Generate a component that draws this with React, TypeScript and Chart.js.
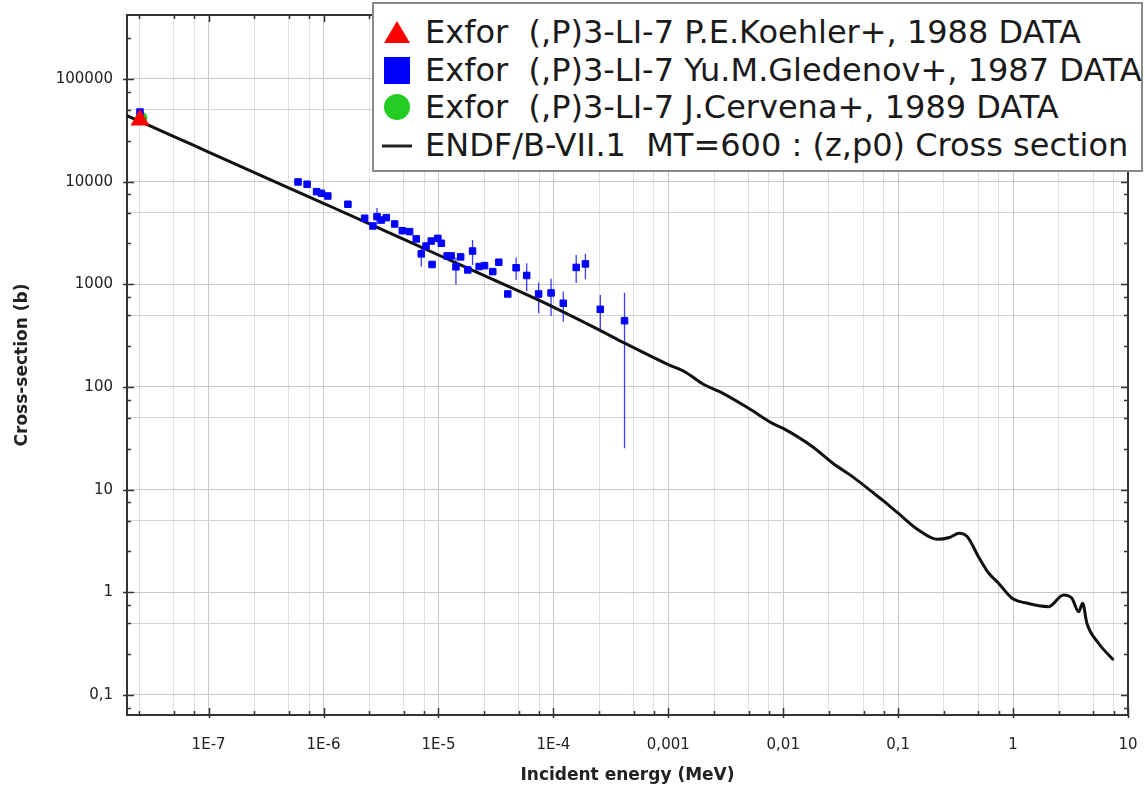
import React, { useEffect, useRef } from "react";
import { Chart, registerables } from "chart.js";

Chart.register(...registerables);

// ENDF/B-VII.1 MT=600 curve (MeV, barns)
const endfEnergy = [
  1.95e-8, 2.53e-8, 5e-8, 1e-7, 3e-7, 1e-6, 3e-6, 1e-5, 3e-5, 1e-4, 2.5e-4, 4.1e-4,
  1e-3, 1.4e-3, 2e-3, 2.8e-3, 5e-3, 8e-3, 0.01, 0.018, 0.027, 0.04, 0.073, 0.1,
  0.15, 0.22, 0.28, 0.34, 0.4, 0.5, 0.61, 0.75, 0.98, 1.28, 2.04, 2.75, 3.25,
  3.72, 4.03, 4.39, 5.54, 7.48,
];
const endfSigma = [
  44000, 38600, 27500, 19400, 11200, 6150, 3550, 1930, 1110, 600, 360, 270,
  165, 140, 107, 90, 62, 44.5, 39.5, 26.2, 18.1, 13.4, 7.9, 5.9,
  4.05, 3.28, 3.42, 3.76, 3.48, 2.22, 1.55, 1.22, 0.875, 0.79, 0.724, 0.942, 0.875,
  0.648, 0.781, 0.499, 0.319, 0.219,
];

// Exfor Yu.M.Gledenov+, 1987
const gledenovEnergy = [
  2.53e-8, 6.0e-7, 7.2e-7, 8.7e-7, 9.6e-7, 1.09e-6, 1.63e-6, 2.28e-6, 2.69e-6, 2.92e-6,
  3.18e-6, 3.52e-6, 4.16e-6, 4.85e-6, 5.61e-6, 6.41e-6, 7.09e-6, 7.8e-6, 8.66e-6, 8.8e-6,
  9.88e-6, 1.06e-5, 1.19e-5, 1.29e-5, 1.42e-5, 1.56e-5, 1.8e-5, 1.98e-5, 2.26e-5, 2.52e-5,
  2.97e-5, 3.35e-5, 4.01e-5, 4.74e-5, 5.86e-5, 7.44e-5, 9.55e-5, 1.22e-4, 1.58e-4, 1.9e-4,
  2.56e-4, 4.16e-4,
];
const gledenovSigma = [
  47700, 9930, 9430, 7990, 7700, 7250, 6020, 4400, 3700, 4560,
  4230, 4460, 3870, 3330, 3260, 2770, 1980, 2360, 2640, 1560,
  2800, 2510, 1890, 1890, 1480, 1850, 1380, 2110, 1490, 1520,
  1330, 1640, 805, 1450, 1220, 805, 824, 654, 1460, 1580,
  571, 442,
];
const gledenovLow = [
  null, null, null, null, null, null, null, null, null, 3870,
  null, null, null, null, null, null, 1490, null, null, null,
  null, null, null, null, 990, null, null, 1540, null, null,
  null, null, null, 1100, 861, 522, 492, 433, 1030, 1120,
  359, 25.3,
];
const gledenovHigh = [
  null, null, null, null, null, null, null, null, null, 5540,
  null, null, null, null, null, null, 2330, null, null, null,
  null, null, null, null, 1810, null, null, 2700, null, null,
  null, null, null, 1820, 1600, 1040, 1130, 852, 1930, 1980,
  787, 829,
];

// Exfor P.E.Koehler+, 1988
const koehlerEnergy = [2.53e-8];
const koehlerSigma = [39800];
// Exfor J.Cervena+, 1989
const cervenaEnergy = [2.6e-8];
const cervenaSigma = [42000];

const X_MIN = 1.95e-8;
const X_MAX = 10;
const Y_MIN = 0.0638;
const Y_MAX = 420000;

const xDecades = [1e-7, 1e-6, 1e-5, 1e-4, 1e-3, 1e-2, 0.1, 1, 10];
const xDecadeLabels = ["1E-7", "1E-6", "1E-5", "1E-4", "0,001", "0,01", "0,1", "1", "10"];
const yDecades = [0.1, 1, 10, 100, 1000, 10000, 100000];
const yDecadeLabels = ["0,1", "1", "10", "100", "1000", "10000", "100000"];
const minorMantissas = [2.5, 5, 7.5];

const legendLabels = [
  "Exfor  (,P)3-LI-7 P.E.Koehler+, 1988 DATA",
  "Exfor  (,P)3-LI-7 Yu.M.Gledenov+, 1987 DATA",
  "Exfor  (,P)3-LI-7 J.Cervena+, 1989 DATA",
  "ENDF/B-VII.1  MT=600 : (z,p0) Cross section",
];
const axisTitleX = "Incident energy (MeV)";
const axisTitleY = "Cross-section (b)";

const FONT = "'DejaVu Sans', sans-serif";

function buildTicks(min: number, max: number): number[] {
  const out: number[] = [];
  for (let e = Math.floor(Math.log10(min)) - 1; e <= Math.ceil(Math.log10(max)); e++) {
    const base = Math.pow(10, e);
    for (const m of [1, ...minorMantissas]) {
      const v = m * base;
      if (v >= min * 0.9999 && v <= max * 1.0001) out.push(v);
    }
  }
  return out.sort((a, b) => a - b);
}

function mantissa(v: number): number {
  const e = Math.floor(Math.log10(v) + 1e-9);
  return v / Math.pow(10, e);
}
function isDecade(v: number): boolean {
  const l = Math.log10(v);
  return Math.abs(l - Math.round(l)) < 1e-6;
}
function labelFor(v: number, decs: number[], labels: string[]): string {
  for (let i = 0; i < decs.length; i++) {
    if (Math.abs(Math.log10(v) - Math.log10(decs[i])) < 1e-6) return labels[i];
  }
  return "";
}

const xTickValues = buildTicks(X_MIN, X_MAX);
const yTickValues = buildTicks(Y_MIN, Y_MAX);

const frameTicksPlugin = {
  id: "frameTicks",
  beforeDatasetsDraw(chart: any) {
    const { ctx, chartArea } = chart;
    const { left, right, top, bottom } = chartArea;
    const xs = chart.scales.x;
    const ys = chart.scales.y;
    ctx.save();
    ctx.strokeStyle = "#333333";
    ctx.lineWidth = 1.5;
    ctx.beginPath();
    xs.ticks.forEach((t: any) => {
      const px = Math.round(xs.getPixelForValue(t.value)) + 0.5;
      const major = isDecade(t.value);
      const len = major ? 7 : 4;
      ctx.moveTo(px, bottom + (major ? 3 : 0));
      ctx.lineTo(px, bottom - len);
      ctx.moveTo(px, top);
      ctx.lineTo(px, top + len);
    });
    ys.ticks.forEach((t: any) => {
      const py = Math.round(ys.getPixelForValue(t.value)) + 0.5;
      const major = isDecade(t.value);
      const len = major ? 7 : 4;
      ctx.moveTo(left - (major ? 4 : 0), py);
      ctx.lineTo(left + len, py);
      ctx.moveTo(right, py);
      ctx.lineTo(right - len, py);
    });
    ctx.stroke();
    ctx.lineWidth = 2;
    ctx.strokeRect(left, top, right - left, bottom - top);
    ctx.restore();
  },
};

const errorBarPlugin = {
  id: "errorBars",
  beforeDatasetsDraw(chart: any) {
    const { ctx } = chart;
    const xs = chart.scales.x;
    const ys = chart.scales.y;
    ctx.save();
    ctx.strokeStyle = "#3b3bf5";
    ctx.lineWidth = 1.3;
    ctx.beginPath();
    for (let i = 0; i < gledenovEnergy.length; i++) {
      const lo = gledenovLow[i];
      const hi = gledenovHigh[i];
      if (lo == null || hi == null) continue;
      const px = xs.getPixelForValue(gledenovEnergy[i]);
      ctx.moveTo(px, ys.getPixelForValue(lo));
      ctx.lineTo(px, ys.getPixelForValue(hi));
    }
    ctx.stroke();
    ctx.restore();
  },
};

function zeroPadding(s: any) {
  s.paddingLeft = 0;
  s.paddingRight = 0;
  s.paddingTop = 0;
  s.paddingBottom = 0;
}

function LegendMarker({ kind }: { kind: number }) {
  if (kind === 0)
    return (
      <svg width="30" height="30" viewBox="0 0 30 30">
        <polygon points="15,4 28,26 2,26" fill="#ff0000" />
      </svg>
    );
  if (kind === 1)
    return (
      <svg width="30" height="30" viewBox="0 0 30 30">
        <rect x="2" y="2" width="26" height="27" fill="#0000ff" />
      </svg>
    );
  if (kind === 2)
    return (
      <svg width="30" height="30" viewBox="0 0 30 30">
        <circle cx="15" cy="15" r="13" fill="#22cc22" />
      </svg>
    );
  return (
    <svg width="30" height="30" viewBox="0 0 30 30">
      <line x1="0" y1="16" x2="31" y2="16" stroke="#222" strokeWidth="3" />
    </svg>
  );
}

export default function App() {
  const canvasRef = useRef<HTMLCanvasElement | null>(null);

  useEffect(() => {
    if (!canvasRef.current) return;
    const chart = new Chart(canvasRef.current, {
      type: "scatter",
      data: {
        datasets: [
          {
            label: legendLabels[0],
            data: koehlerEnergy.map((e, i) => ({ x: e, y: koehlerSigma[i] })),
            pointStyle: "triangle",
            pointRadius: 11,
            backgroundColor: "#ff0000",
            borderColor: "#ff0000",
            borderWidth: 0,
            order: 1,
          },
          {
            label: legendLabels[1],
            data: gledenovEnergy.map((e, i) => ({ x: e, y: gledenovSigma[i] })),
            pointStyle: "rect",
            pointRadius: 4.6,
            backgroundColor: "#0000ff",
            borderColor: "#0000ff",
            borderWidth: 1,
            order: 2,
          },
          {
            label: legendLabels[2],
            data: cervenaEnergy.map((e, i) => ({ x: e, y: cervenaSigma[i] })),
            pointStyle: "circle",
            pointRadius: 6,
            backgroundColor: "#22cc22",
            borderColor: "#22cc22",
            borderWidth: 0,
            order: 3,
          },
          {
            type: "line",
            label: legendLabels[3],
            data: endfEnergy.map((e, i) => ({ x: e, y: endfSigma[i] })),
            borderColor: "#111111",
            borderWidth: 3,
            pointRadius: 0,
            fill: false,
            cubicInterpolationMode: "monotone",
            order: 4,
          } as any,
        ],
      },
      options: {
        animation: false,
        responsive: true,
        maintainAspectRatio: false,
        layout: { padding: { top: 15, right: 17, left: 0, bottom: 0 } },
        plugins: {
          legend: { display: false },
          tooltip: { enabled: false },
        },
        scales: {
          x: {
            type: "logarithmic",
            min: X_MIN,
            max: X_MAX,
            bounds: "data",
            afterBuildTicks: (s: any) => {
              s.ticks = xTickValues.map((v) => ({ value: v, major: isDecade(v) }));
            },
            afterFit: (s: any) => {
              s.height = 78;
              zeroPadding(s);
            },
            ticks: {
              autoSkip: false,
              maxRotation: 0,
              minRotation: 0,
              padding: 21,
              color: "#222",
              font: { family: FONT, size: 15 },
              callback: (v: any) => labelFor(Number(v), xDecades, xDecadeLabels),
            },
            grid: {
              drawTicks: false,
              lineWidth: 1,
              color: (c: any) => (c.tick && isDecade(c.tick.value) ? "#c8c8c8" : "#e0e0e0"),
            },
            border: { display: false },
            title: {
              display: true,
              text: axisTitleX,
              color: "#222",
              font: { family: FONT, size: 17, weight: "bold" },
              padding: { top: 0, bottom: 7 },
            },
          },
          y: {
            type: "logarithmic",
            min: Y_MIN,
            max: Y_MAX,
            bounds: "data",
            afterBuildTicks: (s: any) => {
              s.ticks = yTickValues.map((v) => ({ value: v, major: isDecade(v) }));
            },
            afterFit: (s: any) => {
              s.width = 127;
              zeroPadding(s);
            },
            ticks: {
              autoSkip: false,
              padding: 14,
              color: "#222",
              font: { family: FONT, size: 15 },
              callback: (v: any) => labelFor(Number(v), yDecades, yDecadeLabels),
            },
            grid: {
              drawTicks: false,
              lineWidth: 1,
              color: (c: any) => {
                if (!c.tick) return "#dddddd";
                const m = mantissa(c.tick.value);
                if (Math.abs(m - 1) < 1e-6 || Math.abs(m - 10) < 1e-6) return "#c8c8c8";
                if (Math.abs(m - 5) < 1e-6) return "#d4d4d4";
                return "rgba(0,0,0,0)";
              },
            },
            border: { display: false },
            title: {
              display: true,
              text: axisTitleY,
              color: "#222",
              font: { family: FONT, size: 17, weight: "bold" },
              padding: { top: 12, bottom: 0 },
            },
          },
        },
      } as any,
      plugins: [frameTicksPlugin, errorBarPlugin],
    });
    return () => chart.destroy();
  }, []);

  const rowCenters = [33, 71, 108, 146];

  return (
    <div
      style={{
        position: "fixed",
        left: 0,
        top: 0,
        width: 1145,
        height: 793,
        background: "#ffffff",
        overflow: "hidden",
      }}
    >
      <canvas ref={canvasRef} />
      <div
        style={{
          position: "absolute",
          left: 372,
          top: 2,
          width: 771,
          height: 170,
          boxSizing: "border-box",
          border: "2px solid #8a8a8a",
          background: "#ffffff",
        }}
      >
        {legendLabels.map((txt, i) => (
          <div
            key={i}
            style={{
              position: "absolute",
              left: 8,
              top: rowCenters[i] - 2 - 19 - 3,
              height: 38,
              display: "flex",
              alignItems: "center",
              whiteSpace: "pre",
              fontFamily: FONT,
              fontSize: 32,
              color: "#1a1a1a",
              lineHeight: "38px",
            }}
          >
            <span style={{ display: "inline-block", width: 43, height: 30 }}>
              <LegendMarker kind={i} />
            </span>
            <span>{txt}</span>
          </div>
        ))}
      </div>
    </div>
  );
}
